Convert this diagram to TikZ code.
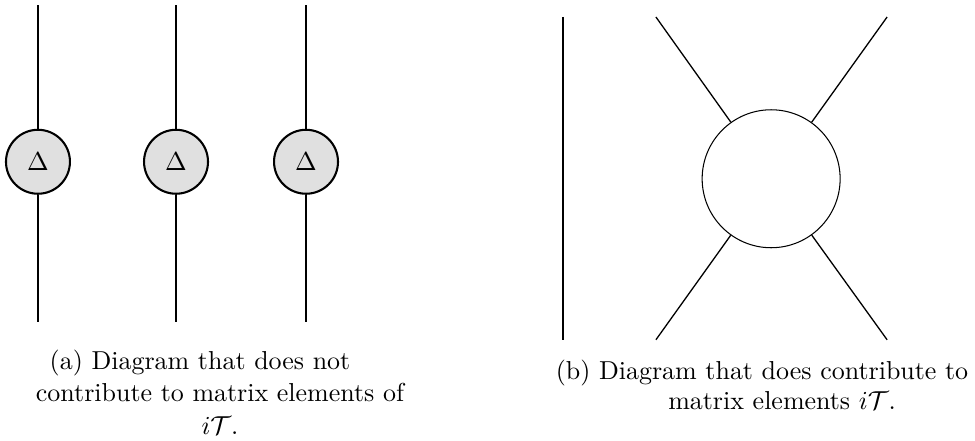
\documentclass[tikz,border=0pt]{standalone}
\usepackage{amsmath,amssymb}
\usetikzlibrary{positioning}
\begin{document}
\begin{tikzpicture}[
    vertex/.style={circle, draw, thick, fill=black!12, minimum size=0.866cm, inner sep=0pt},
    blob/.style={circle, draw, minimum size=1.868cm, inner sep=0pt},
    leg/.style={thick},
    line/.style={line width=0.5pt},
    captext/.style={anchor=base, font=\normalsize}
  ]
  \useasboundingbox (0,0) rectangle (13.2,5.97);

  % (a) three disconnected propagators
  \foreach \name/\x in {one/0.514, two/2.383, three/4.143} {
    \node[vertex] (d\name) at (\x,3.78) {$\Delta$};
    \coordinate (t\name) at (\x,5.90);
    \coordinate (b\name) at (\x,1.61);
    \draw[leg] (t\name) -- (d\name);
    \draw[leg] (d\name) -- (b\name);
  }

  \node[captext] (capa1) at (2.708,0.961) {(a) Diagram that does not};
  \node[captext] (capa2) at (2.978,0.528) {contribute to matrix elements of};
  \node[captext] (capa3) at (2.978,0.081) {$i\mathcal{T}$.};

  % (b) connected part
  \coordinate (vtop) at (7.62,5.74);
  \coordinate (vbot) at (7.62,1.37);
  \draw[line] (vtop) -- (vbot);

  \node[blob] (amp) at (10.44,3.55) {};
  \coordinate (inl) at (8.88,1.37);
  \coordinate (inr) at (12.01,1.37);
  \coordinate (outl) at (8.88,5.74);
  \coordinate (outr) at (12.01,5.74);
  \foreach \p in {inl, inr, outl, outr}
    \draw[line] (\p) -- (amp);

  \node[captext] (capb1) at (10.316,0.826) {(b) Diagram that does contribute to};
  \node[captext] (capb2) at (10.587,0.420) {matrix elements $i\mathcal{T}$.};
\end{tikzpicture}
\end{document}
